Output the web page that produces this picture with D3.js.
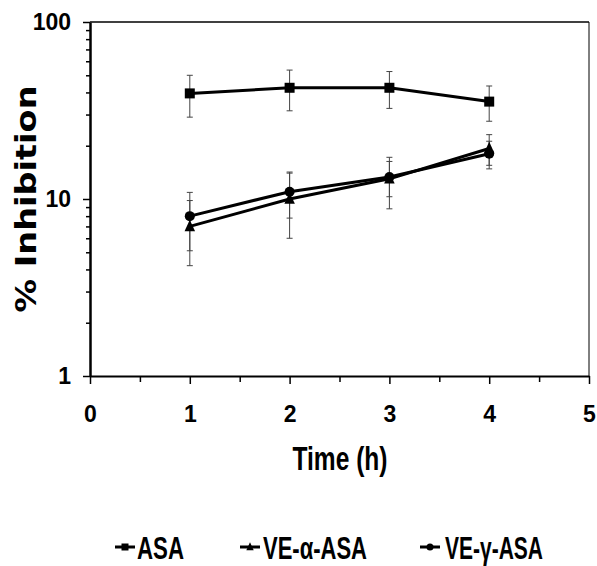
<!DOCTYPE html>
<html>
<head>
<meta charset="utf-8">
<script src="https://cdn.jsdelivr.net/npm/d3@7"></script>
<style>
  body { margin: 0; background: #fff; }
  svg { display: block; }
</style>
</head>
<body>
<svg></svg>
<script>
// % Inhibition over time, log scale with SD error bars

const times = [1, 2, 3, 4];
const asa = [39.5, 42.5, 42.5, 35.5];
const asaSd = [10.5, 11, 10, 8];
const veAlpha = [7, 10, 13, 19.3];
const veAlphaSd = [2.8, 4, 4.2, 3.8];
const veGamma = [8, 11, 13.3, 18];
const veGammaSd = [2.9, 3.2, 3, 3.2];

const seriesNames = ["ASA", "VE-α-ASA", "VE-γ-ASA"];
const seriesMarkers = ["square", "triangle", "circle"];

const xTicks = [0, 1, 2, 3, 4, 5];
const xMinorTicks = [0.5, 1.5, 2.5, 3.5, 4.5];
const yTicks = [1, 10, 100];
const yMinorTicks = [2, 3, 4, 5, 6, 7, 8, 9, 20, 30, 40, 50, 60, 70, 80, 90];

const width = 597, height = 566;
const plotLeft = 90, plotRight = 589, plotTop = 22, plotBottom = 376;

const series = [
  { name: seriesNames[0], marker: seriesMarkers[0], values: asa, sd: asaSd },
  { name: seriesNames[1], marker: seriesMarkers[1], values: veAlpha, sd: veAlphaSd },
  { name: seriesNames[2], marker: seriesMarkers[2], values: veGamma, sd: veGammaSd }
];

const x = d3.scaleLinear().domain([0, 5]).range([plotLeft, plotRight]);
const y = d3.scaleLog().domain([1, 100]).range([plotBottom, plotTop]);

const svg = d3.select("svg")
  .attr("width", width)
  .attr("height", height);

const tickFont = "'Liberation Sans Narrow', 'Arial Narrow', sans-serif";

// marker shapes
function markerPath(type, s) {
  if (type === "square") return `M${-s},${-s}H${s}V${s}H${-s}Z`;
  if (type === "triangle") return `M0,${-s * 1.35}L${s * 1.05},${s * 0.95}L${-s * 1.05},${s * 0.95}Z`;
  return d3.symbol(d3.symbolCircle, Math.PI * s * s)();
}

// frame: top and right
svg.append("line")
  .attr("x1", plotLeft).attr("x2", plotRight).attr("y1", plotTop).attr("y2", plotTop)
  .attr("stroke", "#000").attr("stroke-width", 1.5);
svg.append("line")
  .attr("x1", plotRight).attr("x2", plotRight).attr("y1", plotTop).attr("y2", plotBottom)
  .attr("stroke", "#000").attr("stroke-width", 1);

// y axis (minor then major)
svg.append("g")
  .attr("transform", `translate(${plotLeft},0)`)
  .call(d3.axisLeft(y).tickValues(yMinorTicks).tickSize(4).tickSizeOuter(0).tickFormat(""))
  .call(g => g.select(".domain").remove())
  .call(g => g.selectAll(".tick line").attr("stroke-width", 1.5));

svg.append("g")
  .attr("transform", `translate(${plotLeft},0)`)
  .call(d3.axisLeft(y).tickValues(yTicks).tickSize(7).tickSizeOuter(0).tickFormat(d3.format("d")).tickPadding(12))
  .call(g => g.select(".domain").attr("stroke-width", 2.5))
  .call(g => g.selectAll(".tick line").attr("stroke-width", 1.5))
  .call(g => g.selectAll(".tick text")
    .attr("font-family", tickFont)
    .attr("font-weight", "bold")
    .attr("font-size", 23)
    .attr("fill", "#000"));

// x axis (minor then major)
svg.append("g")
  .attr("transform", `translate(0,${plotBottom})`)
  .call(d3.axisBottom(x).tickValues(xMinorTicks).tickSize(6).tickSizeOuter(0).tickFormat(""))
  .call(g => g.select(".domain").remove())
  .call(g => g.selectAll(".tick line").attr("stroke-width", 1.5));

svg.append("g")
  .attr("transform", `translate(0,${plotBottom})`)
  .call(d3.axisBottom(x).tickValues(xTicks).tickSize(8).tickSizeOuter(0).tickFormat(d3.format("d")).tickPadding(22))
  .call(g => g.select(".domain").attr("stroke-width", 2))
  .call(g => g.selectAll(".tick line").attr("stroke-width", 1.5))
  .call(g => g.selectAll(".tick text")
    .attr("font-family", tickFont)
    .attr("font-weight", "bold")
    .attr("font-size", 23)
    .attr("fill", "#000"));

// error bars
const errG = svg.append("g").attr("stroke", "#444").attr("stroke-width", 1);
series.forEach(s => {
  times.forEach((t, i) => {
    const hi = s.values[i] + s.sd[i], lo = Math.max(s.values[i] - s.sd[i], 1);
    errG.append("line")
      .attr("x1", x(t)).attr("x2", x(t)).attr("y1", y(hi)).attr("y2", y(lo));
    [hi, lo].forEach(v => errG.append("line")
      .attr("x1", x(t) - 3).attr("x2", x(t) + 3).attr("y1", y(v)).attr("y2", y(v)));
  });
});

// lines and markers
const line = d3.line().x(d => x(d[0])).y(d => y(d[1]));
series.forEach(s => {
  const pts = times.map((t, i) => [t, s.values[i]]);
  svg.append("path")
    .datum(pts)
    .attr("d", line)
    .attr("fill", "none")
    .attr("stroke", "#000")
    .attr("stroke-width", 3);
  svg.append("g").selectAll("path")
    .data(pts)
    .join("path")
    .attr("transform", d => `translate(${x(d[0])},${y(d[1])})`)
    .attr("d", markerPath(s.marker, 5))
    .attr("fill", "#000");
});

// axis titles
svg.append("text")
  .attr("transform", "translate(36,199) rotate(-90)")
  .attr("text-anchor", "middle")
  .attr("font-family", "'DejaVu Sans', Verdana, sans-serif")
  .attr("font-weight", "bold")
  .attr("font-size", 28)
  .attr("textLength", 227)
  .attr("lengthAdjust", "spacingAndGlyphs")
  .text("% Inhibition");

svg.append("text")
  .attr("x", 340)
  .attr("y", 470)
  .attr("text-anchor", "middle")
  .attr("font-family", tickFont)
  .attr("font-weight", "bold")
  .attr("font-size", 34)
  .attr("textLength", 95)
  .attr("lengthAdjust", "spacingAndGlyphs")
  .text("Time (h)");

// legend
const legendX = [125, 250, 430];
const legendTextX = [137, 263, 445];
const legendWidths = [47, 104, 98];
const legend = svg.append("g").selectAll("g")
  .data(series)
  .join("g");
legend.append("line")
  .attr("x1", (d, i) => legendX[i] - 10)
  .attr("x2", (d, i) => legendX[i] + 10)
  .attr("y1", 547).attr("y2", 547)
  .attr("stroke", "#000").attr("stroke-width", 3);
legend.append("path")
  .attr("transform", (d, i) => `translate(${legendX[i]},547)`)
  .attr("d", d => markerPath(d.marker, 3.5))
  .attr("fill", "#000");
legend.append("text")
  .attr("x", (d, i) => legendTextX[i])
  .attr("y", 559)
  .attr("font-family", tickFont)
  .attr("font-weight", "bold")
  .attr("font-size", 32)
  .attr("textLength", (d, i) => legendWidths[i])
  .attr("lengthAdjust", "spacingAndGlyphs")
  .text(d => d.name);
</script>
</body>
</html>
